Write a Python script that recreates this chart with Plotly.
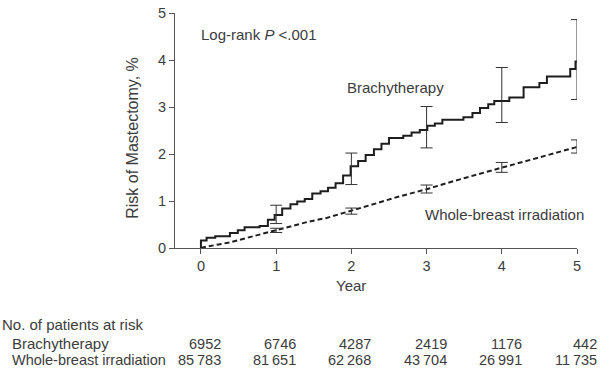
import plotly.graph_objects as go

# ---- data ----
brachy_t = [0, 0, 0.075, 0.19, 0.385, 0.49, 0.58, 0.78, 0.89, 0.98, 1.08, 1.19, 1.28, 1.38,
            1.48, 1.59, 1.69, 1.79, 1.89, 1.99, 2.09, 2.19, 2.30, 2.40, 2.50, 2.69, 2.80,
            2.91, 3.01, 3.11, 3.21, 3.49, 3.61, 3.71, 3.82, 3.90, 4.10, 4.29, 4.50, 4.60,
            4.91, 4.98, 5.0]
brachy_v = [0, 0.16, 0.22, 0.25, 0.32, 0.38, 0.44, 0.47, 0.60, 0.70, 0.84, 0.93, 0.99, 1.04,
            1.16, 1.21, 1.28, 1.38, 1.54, 1.74, 1.85, 1.98, 2.10, 2.22, 2.34, 2.39, 2.46,
            2.51, 2.60, 2.65, 2.73, 2.78, 2.87, 2.98, 3.06, 3.13, 3.20, 3.42, 3.51, 3.65,
            3.81, 3.97, 3.97]

wbi_t = [0, 0.05, 0.385, 0.58, 1.0, 1.43, 1.67, 2.0, 2.33, 2.62, 3.0, 3.31, 3.66, 4.0, 4.46, 5.0]
wbi_v = [0, 0.02, 0.12, 0.20, 0.38, 0.56, 0.64, 0.79, 0.95, 1.09, 1.25, 1.40, 1.55, 1.71, 1.91, 2.15]

ci_years = [1, 2, 3, 4, 5]
brachy_ci_est = [0.70, 1.74, 2.60, 3.13, 3.97]
brachy_ci_low = [0.52, 1.35, 2.13, 2.67, 3.16]
brachy_ci_high = [0.91, 2.02, 3.01, 3.84, 4.86]
wbi_ci_est = [0.38, 0.79, 1.25, 1.71, 2.15]
wbi_ci_low = [0.33, 0.72, 1.17, 1.61, 2.02]
wbi_ci_high = [0.42, 0.85, 1.34, 1.82, 2.30]

risk_years = [0, 1, 2, 3, 4, 5]
risk_brachy = ["6952", "6746", "4287", "2419", "1176", "442"]
risk_wbi = ["85\u2009783", "81\u2009651", "62\u2009268", "43\u2009704", "26\u2009991", "11\u2009735"]

x_ticks = [0, 1, 2, 3, 4, 5]
y_ticks = [0, 1, 2, 3, 4, 5]

FONT = "Liberation Sans, Arial, sans-serif"
TXT = "#3c3c3c"
LINE = "#1e1e1e"

fig = go.Figure()

fig.add_trace(go.Scatter(x=brachy_t, y=brachy_v, mode="lines", line_shape="hv",
                         line=dict(color=LINE, width=2), showlegend=False, hoverinfo="skip"))
fig.add_trace(go.Scatter(x=wbi_t, y=wbi_v, mode="lines",
                         line=dict(color=LINE, width=2, dash="5px,3px"),
                         showlegend=False, hoverinfo="skip"))

def ci_trace(est, low, high):
    return go.Scatter(
        x=ci_years, y=est, mode="markers", marker=dict(size=1, color="rgba(0,0,0,0)"),
        error_y=dict(type="data", symmetric=False,
                     array=[h - e for h, e in zip(high, est)],
                     arrayminus=[e - l for e, l in zip(est, low)],
                     color="#333333", thickness=1, width=6),
        showlegend=False, hoverinfo="skip")

fig.add_trace(ci_trace(brachy_ci_est, brachy_ci_low, brachy_ci_high))
fig.add_trace(ci_trace(wbi_ci_est, wbi_ci_low, wbi_ci_high))

F15 = dict(size=15)
annotations = [
    dict(text="Log-rank <i>P</i> &lt;.001", x=0, y=(248 - 27) / 243, xref="x", yref="paper",
         xanchor="left", yanchor="middle", showarrow=False, xshift=-2, font=F15),
    dict(text="Brachytherapy", x=1.91, y=3.42, xref="x", yref="y",
         xanchor="left", yanchor="middle", showarrow=False, font=F15),
    dict(text="Whole-breast irradiation", x=(586 - 175) / 402, y=(248 - 213) / 243,
         xref="paper", yref="paper", xanchor="right", yanchor="middle", showarrow=False,
         font=F15),
    dict(text="Risk of Mastectomy, %", x=(133 - 175) / 402, y=(248 - 134) / 243,
         xref="paper", yref="paper", textangle=-90, xanchor="center", yanchor="middle",
         showarrow=False, font=dict(size=16)),
    dict(text="Year", x=2.0, y=(248 - 287) / 243, xref="x", yref="paper",
         xanchor="center", yanchor="middle", showarrow=False, font=F15),
    dict(text="No. of patients at risk", x=-175 / 402, y=(248 - 327) / 243, xref="paper",
         yref="paper", xanchor="left", yanchor="middle", showarrow=False, font=F15),
    dict(text="Brachytherapy", x=-165 / 402, y=(248 - 347) / 243, xref="paper",
         yref="paper", xanchor="left", yanchor="middle", showarrow=False, font=F15),
    dict(text="Whole-breast irradiation", x=-165 / 402, y=(248 - 364) / 243, xref="paper",
         yref="paper", xanchor="left", yanchor="middle", showarrow=False,
         font=dict(size=14.5)),
]
for yr, nb, nw in zip(risk_years, risk_brachy, risk_wbi):
    annotations.append(dict(text=nb, x=yr, y=(248 - 347) / 243, xref="x", yref="paper",
                            xanchor="right", yanchor="middle", xshift=22, showarrow=False,
                            font=dict(size=14.5)))
    annotations.append(dict(text=nw, x=yr, y=(248 - 364) / 243, xref="x", yref="paper",
                            xanchor="right", yanchor="middle", xshift=22, showarrow=False,
                            font=dict(size=14.5)))

fig.update_layout(
    width=600, height=371,
    margin=dict(l=175, r=23, t=5, b=123),
    paper_bgcolor="white", plot_bgcolor="white",
    font=dict(family=FONT, size=14, color=TXT),
    annotations=annotations,
    xaxis=dict(range=[-0.345, 5.0], tickvals=x_ticks, ticks="outside", ticklen=5,
               tickcolor="#555", showline=True, linecolor="#555", linewidth=1,
               showgrid=False, zeroline=False, tickfont=dict(size=14.5, color=TXT),
               ticklabeloverflow="allow"),
    yaxis=dict(range=[0, 5], tickvals=y_ticks, ticks="outside", ticklen=5,
               tickcolor="#555", showline=True, linecolor="#555", linewidth=1,
               showgrid=False, zeroline=False, tickfont=dict(size=14.5, color=TXT),
               ticklabeloverflow="allow"),
)

fig.write_html("out.html", config={"displayModeBar": False},
               post_script="document.body.style.margin='0';document.body.style.padding='0';")
